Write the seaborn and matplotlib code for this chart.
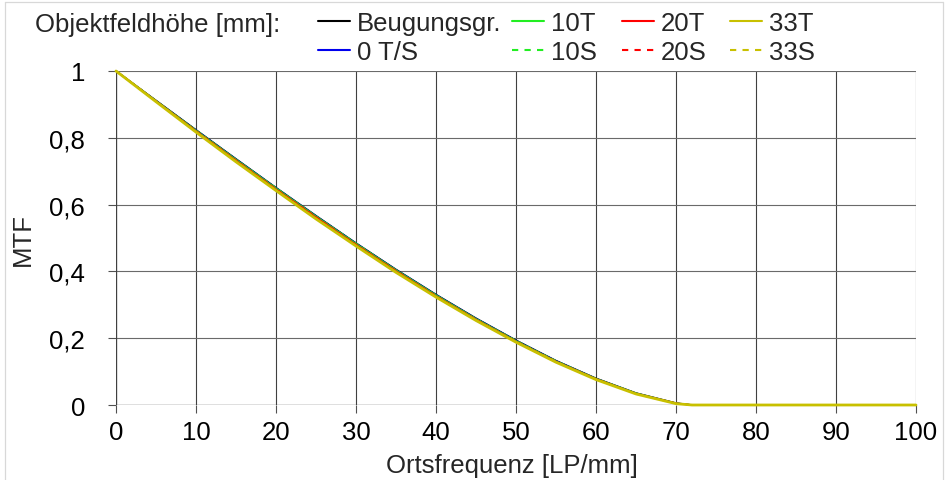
import matplotlib
matplotlib.use("Agg")
import matplotlib.pyplot as plt
from matplotlib.lines import Line2D
import seaborn as sns

# Spatial frequency samples [LP/mm]
freq = [0, 5, 10, 15, 20, 25, 30, 35, 40, 45, 50, 55, 60, 65, 70, 72,
        75, 80, 85, 90, 95, 100]

# MTF values per field height
mtf_beugung = [1.000, 0.912, 0.824, 0.737, 0.651, 0.567, 0.485, 0.406, 0.331,
               0.260, 0.194, 0.133, 0.080, 0.036, 0.006, 0.0,
               0.0, 0.0, 0.0, 0.0, 0.0, 0.0]
mtf_0ts = [1.000, 0.911, 0.823, 0.736, 0.650, 0.566, 0.484, 0.405, 0.330,
           0.259, 0.193, 0.132, 0.079, 0.035, 0.005, 0.0,
           0.0, 0.0, 0.0, 0.0, 0.0, 0.0]
mtf_10t = [1.000, 0.911, 0.822, 0.735, 0.649, 0.565, 0.483, 0.404, 0.329,
           0.258, 0.192, 0.131, 0.079, 0.035, 0.005, 0.0,
           0.0, 0.0, 0.0, 0.0, 0.0, 0.0]
mtf_10s = [1.000, 0.911, 0.823, 0.735, 0.650, 0.565, 0.484, 0.404, 0.329,
           0.258, 0.193, 0.132, 0.079, 0.035, 0.005, 0.0,
           0.0, 0.0, 0.0, 0.0, 0.0, 0.0]
mtf_20t = [1.000, 0.910, 0.820, 0.732, 0.646, 0.562, 0.480, 0.401, 0.326,
           0.256, 0.190, 0.130, 0.078, 0.034, 0.005, 0.0,
           0.0, 0.0, 0.0, 0.0, 0.0, 0.0]
mtf_20s = [1.000, 0.910, 0.821, 0.733, 0.647, 0.563, 0.481, 0.402, 0.327,
           0.256, 0.191, 0.130, 0.078, 0.034, 0.005, 0.0,
           0.0, 0.0, 0.0, 0.0, 0.0, 0.0]
mtf_33t = [1.000, 0.908, 0.817, 0.728, 0.642, 0.557, 0.476, 0.397, 0.323,
           0.253, 0.188, 0.128, 0.076, 0.033, 0.004, 0.0,
           0.0, 0.0, 0.0, 0.0, 0.0, 0.0]
mtf_33s = [1.000, 0.909, 0.818, 0.730, 0.644, 0.559, 0.478, 0.399, 0.324,
           0.254, 0.189, 0.129, 0.077, 0.033, 0.004, 0.0,
           0.0, 0.0, 0.0, 0.0, 0.0, 0.0]

x_ticks = [0, 10, 20, 30, 40, 50, 60, 70, 80, 90, 100]
y_ticks = [0, 0.2, 0.4, 0.6, 0.8, 1.0]
y_ticklabels = ["0", "0,2", "0,4", "0,6", "0,8", "1"]

sns.set_theme(style="white")
plt.rcParams["font.family"] = ["Liberation Sans", "DejaVu Sans"]

FS = 18.5
W, H = 952, 481
fig = plt.figure(figsize=(W / 100, H / 100), dpi=100)
ax = fig.add_axes([116 / W, 1 - 406 / H, 800 / W, 334 / H])

GREEN = "#22ee22"
RED = "#ff0000"
YELLOW = "#c8c000"
BLUE = "#0000ee"
DOT = (0, (3, 3))

series = [
    ("Beugungsgr.", mtf_beugung, "black", "-", 1.1),
    ("0 T/S", mtf_0ts, BLUE, "-", 1.1),
    ("10T", mtf_10t, GREEN, "-", 1.1),
    ("10S", mtf_10s, GREEN, DOT, 1.1),
    ("20T", mtf_20t, RED, "-", 1.1),
    ("20S", mtf_20s, RED, DOT, 1.1),
    ("33T", mtf_33t, YELLOW, "-", 2.0),
    ("33S", mtf_33s, YELLOW, DOT, 1.1),
]

for name, vals, col, ls, lw in series:
    sns.lineplot(x=freq, y=vals, color=col, linestyle=ls, linewidth=lw,
                 ax=ax, legend=False, clip_on=False, zorder=3)

ax.set_xlim(0, 100)
ax.set_ylim(0, 1)
ax.set_xticks(x_ticks)
ax.set_yticks(y_ticks)
ax.set_yticklabels(y_ticklabels)

for s in ax.spines.values():
    s.set_visible(False)
ax.grid(True, which="major", axis="x", color="#404040", linewidth=0.8)
ax.grid(True, which="major", axis="y", color="#6a6a6a", linewidth=0.8)
ax.axhline(0, color="#404040", linewidth=0.9, zorder=2)
ax.axvline(0, color="#404040", linewidth=0.9, zorder=2)

ax.tick_params(axis="both", which="major", direction="out", length=5.8,
               width=0.8, color="#505050", labelsize=FS, labelcolor="black")
ax.tick_params(axis="y", pad=16.5, left=True)
ax.tick_params(axis="x", pad=5.0, bottom=True)

ax.set_xlabel("Ortsfrequenz [LP/mm]", fontsize=FS)
ax.set_ylabel("MTF", fontsize=FS)
ax.xaxis.set_label_coords(0.495, -0.143)
ax.yaxis.set_label_coords(-0.101, 0.5)

# legend header and four legend columns
fig.text(35 / W, 1 - 25 / H, "Objektfeldhöhe [mm]:", fontsize=FS,
         ha="left", va="center")

col_x = [318, 512, 622, 730]
for ci, cx in enumerate(col_x):
    chunk = series[2 * ci: 2 * ci + 2]
    handles = [Line2D([], [], color=col, linestyle=ls, linewidth=1.5)
               for name, vals, col, ls, lw in chunk]
    fig.legend(handles=handles, labels=[c[0] for c in chunk],
               loc="upper left", bbox_to_anchor=(cx / W, 1 - 12 / H),
               frameon=False, fontsize=FS, handlelength=1.25,
               handletextpad=0.27, labelspacing=0.2, borderpad=0,
               borderaxespad=0)

# light frame around the figure
frame_c = "#d8d8d8"
fig.add_artist(Line2D([5 / W, 5 / W], [0, 1 - 3 / H], color=frame_c,
                      lw=0.9, transform=fig.transFigure))
fig.add_artist(Line2D([5 / W, 943 / W], [1 - 3 / H, 1 - 3 / H], color=frame_c,
                      lw=0.9, transform=fig.transFigure))
fig.add_artist(Line2D([943 / W, 943 / W], [0, 1 - 3 / H], color=frame_c,
                      lw=0.9, transform=fig.transFigure))

fig.savefig("out.png", dpi=100, facecolor="white")
